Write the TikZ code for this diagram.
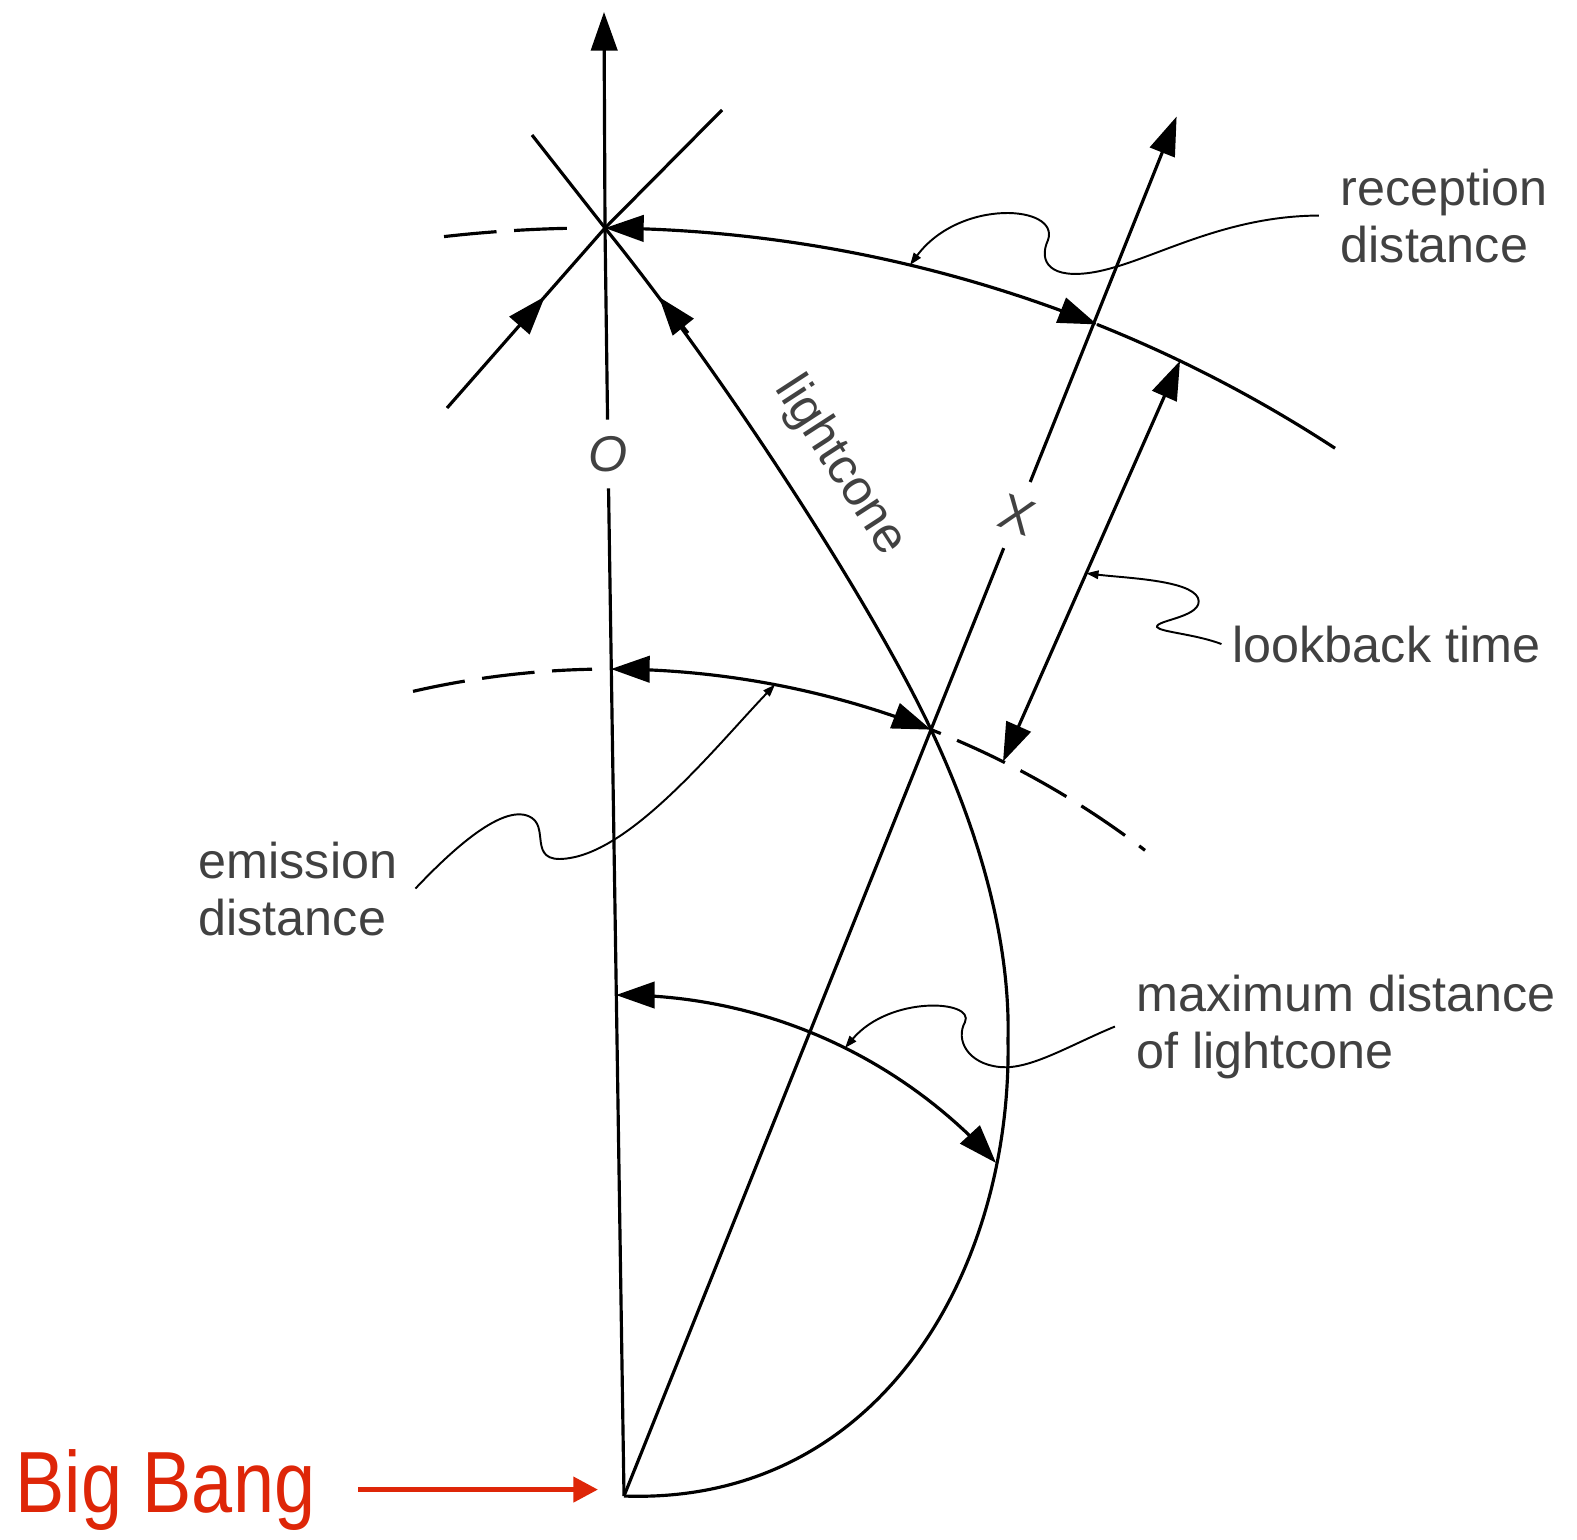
\documentclass[tikz,border=0pt]{standalone}
\usepackage{fontspec}
\setmainfont{Liberation Sans}
\usetikzlibrary{arrows.meta}
\usetikzlibrary{decorations.markings}
\usetikzlibrary{calc}
\definecolor{bbred}{RGB}{222,38,8}
\definecolor{ink}{RGB}{65,65,65}

\tikzset{
  bigtip/.tip={Triangle[length=11pt,width=7.5pt]},
  smalltip/.tip={Triangle[length=3.5pt,width=2.4pt]},
}

\begin{document}
\begin{tikzpicture}[x=0.01cm,y=-0.01cm,
  line/.style={line width=0.9pt},
  dasharc/.style={line width=0.9pt,dash pattern=on 15pt off 5pt},
  leader/.style={line width=0.55pt,-smalltip},
  lbl/.style={inner sep=0pt,anchor=base west,align=left,text=ink,
              font=\fontsize{14.3}{16.2}\selectfont},
  tipat/.style={postaction={decorate},
    decoration={markings,mark=at position #1 with {\arrow{bigtip}}}}]

\useasboundingbox (0,0) rectangle (1577,1539);

%---------------------------------------
% Hypersurfaces of constant time
%---------------------------------------
\pgfmathdeclarefunction{recY}{1}{\pgfmathparse{1578-100*sqrt(182.25-((#1-596)/100)^2)}} % reception
\pgfmathdeclarefunction{emY}{1}{\pgfmathparse{1549-100*sqrt(77.44-((#1-610)/100)^2)}}   % emission
\pgfmathdeclarefunction{maxY}{1}{\pgfmathparse{1500-100*sqrt(25.5025-((#1-620)/100)^2)}} % max distance

% Events
\coordinate (bang) at (624,1496);
\coordinate (here) at (605,228);
\coordinate (otop) at (604,12);
\coordinate (xev) at (931,{emY(931)});
\coordinate (xtop) at ($(bang)!1.8!(xev)$);
\coordinate (conemax) at (1008,1040);

%====================================================
% Worldline of O
%====================================================
\node[lbl,anchor=center,inner sep=4.5pt] (olbl) at (608,454) {\itshape O};
\draw[line,-bigtip] (here) -- (otop);
\draw[line] (olbl) -- (here);
\draw[line] (olbl) -- (bang);

% light rays through the reception event
\draw[line,tipat=0.62] (447,408) -- (here);
\draw[line] (here) -- (722,110);
\draw[line] (532,135) -- (here);

%====================================================
% Worldline of X
%====================================================
\node[lbl,anchor=center,inner sep=5pt,rotate=-20] (xlbl) at ($(bang)!1.28!(xev)$) {X};
\draw[line] (bang) -- (xlbl);
\draw[line,-bigtip] (xlbl) -- (xtop);

% ---- Lightcone ----
\draw[line] (here) .. controls (720,370) and (870,600) .. (xev)
  .. controls (990,855) and (1010,960) .. (conemax)
  .. controls (1012,1270) and (880,1505) .. (bang);
\draw[line,-bigtip] (688,333) -- (659,297);
\node[lbl,anchor=center,rotate=-57] (conelbl) at (840,466) {lightcone};

% ---- Reception distance ----
\draw[dasharc] plot[domain=444:584,samples=20] (\x,{recY(\x)});
\draw[line,bigtip-bigtip] plot[domain=605:1097,samples=60] (\x,{recY(\x)});
\draw[line] plot[domain=1097:1335,samples=30] (\x,{recY(\x)});

% ---- Emission distance ----
\draw[dasharc] plot[domain=413:592,samples=20] (\x,{emY(\x)});
\draw[line,bigtip-bigtip] plot[domain=611:931,samples=40] (\x,{emY(\x)});
\draw[dasharc,dash phase=12pt] plot[domain=931:1145,samples=30] (\x,{emY(\x)});

% ---- Maximum distance ----
\draw[line,bigtip-bigtip] plot[domain=616:996,samples=50] (\x,{maxY(\x)});

% ---- Lookback time ----
\coordinate (lbtop) at (1180,{recY(1180)});
\coordinate (lbbot) at (1003,{emY(1003)});
\draw[line,bigtip-bigtip] (lbtop) -- (lbbot);

%---------------------------------------
% Labels and leaders
%---------------------------------------
\node[lbl] (reclbl) at (1340,262) {reception\\distance};
\node[lbl] (lblbl) at (1232,662) {lookback time};
\node[lbl] (emlbl) at (198,935) {emission\\distance};
\node[lbl] (maxlbl) at (1136,1068) {maximum distance\\of lightcone};

\coordinate (recend) at (910,{recY(910)});
\coordinate (lbend) at ($(lbtop)!0.53!(lbbot)$);
\coordinate (emend) at (775,{emY(775)});
\coordinate (maxend) at (845,{maxY(845)});

\draw[leader] ([xshift=-6pt]reclbl.west) .. controls (1220,216) and (1150,262) .. (1095,272)
  .. controls (1050,280) and (1038,262) .. (1048,240)
  .. controls (1060,205) and (960,198) .. (recend);
\draw[leader] ([xshift=-3pt]lblbl.west) .. controls (1195,634) and (1160,632) .. (1157,627)
  .. controls (1155,620) and (1205,617) .. (1198,598)
  .. controls (1190,580) and (1125,578) .. (lbend);
\draw[leader] ([xshift=5pt]emlbl.east) .. controls (450,852) and (505,800) .. (532,818)
  .. controls (550,830) and (525,868) .. (575,857)
  .. controls (640,842) and (720,742) .. (emend);
\draw[leader] ([xshift=-6pt]maxlbl.west) .. controls (1070,1045) and (1030,1070) .. (1000,1067)
  .. controls (968,1064) and (955,1040) .. (965,1022)
  .. controls (975,1000) and (890,995) .. (maxend);

% ---- Big Bang ----
\coordinate (bangarr) at (598,1488);
\node[inner sep=0pt,anchor=base west,text=bbred,xscale=0.85,
      font=\fontsize{24.7}{28}\selectfont] (bblbl) at (15,1512) {Big Bang};
\draw[bbred,line width=1.5pt,-{Triangle[length=7pt,width=7pt]}]
  ([xshift=12pt]bblbl.east) -- (bangarr |- bblbl.east);

\end{tikzpicture}
\end{document}
